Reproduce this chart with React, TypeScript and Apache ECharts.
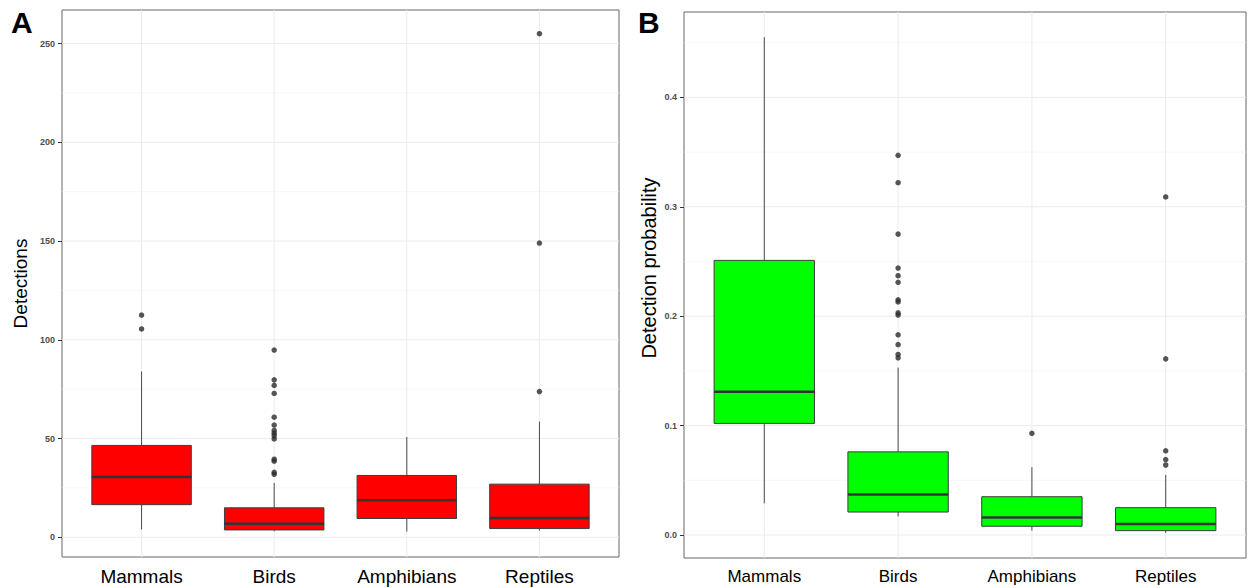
import React, { useEffect, useRef } from 'react';
import * as echarts from 'echarts';

const categories = ['Mammals', 'Birds', 'Amphibians', 'Reptiles'];
const categoryPositions = [0, 1, 2, 3];

// [lower whisker, Q1, median, Q3, upper whisker]
const detectionBoxes = [
  [4, 16.5, 30.5, 46.5, 84],
  [3, 3.7, 6.8, 14.9, 27.5],
  [2.9, 9.5, 18.8, 31.3, 50.8],
  [3.4, 4.4, 9.8, 26.9, 58.6],
];
const detectionOutliers = [
  [112.5, 105.5],
  [94.8, 79.7, 76.9, 72.8, 60.8, 56.8, 54.1, 52.7, 51.4, 49.8, 39.5, 38.5, 32.9, 31.9],
  [],
  [255, 149, 73.8],
];

const probabilityBoxes = [
  [0.029, 0.102, 0.131, 0.251, 0.455],
  [0.017, 0.021, 0.037, 0.076, 0.153],
  [0.004, 0.008, 0.016, 0.035, 0.062],
  [0.002, 0.004, 0.01, 0.025, 0.055],
];
const probabilityOutliers = [
  [],
  [0.347, 0.322, 0.275, 0.244, 0.237, 0.231, 0.215, 0.213, 0.203, 0.201, 0.183, 0.174, 0.165, 0.162],
  [0.093],
  [0.309, 0.161, 0.077, 0.069, 0.064],
];

const detectionTicks = [0, 50, 100, 150, 200, 250];
const detectionMinorTicks = [25, 75, 125, 175, 225];
const probabilityTicks = [0, 0.1, 0.2, 0.3, 0.4];
const probabilityMinorTicks = [0.05, 0.15, 0.25, 0.35, 0.45];

const FONT = '"Liberation Sans", Arial, Helvetica, sans-serif';

function gridSeries(idx: number, majors: number[], minors: number[]) {
  const data: number[][] = [];
  majors.forEach((v) => data.push([0, v, 0]));
  minors.forEach((v) => data.push([0, v, 1]));
  categoryPositions.forEach((p) => data.push([p, 0, 2]));
  return {
    type: 'custom',
    xAxisIndex: idx,
    yAxisIndex: idx,
    silent: true,
    z: 1,
    clip: true,
    encode: { x: 0, y: 1 },
    data,
    renderItem: (params: any, api: any) => {
      const cs = params.coordSys;
      const kind = api.value(2);
      if (kind === 2) {
        const p = api.coord([api.value(0), 0]);
        return {
          type: 'line',
          shape: { x1: p[0], y1: cs.y, x2: p[0], y2: cs.y + cs.height },
          style: { stroke: '#ebebeb', lineWidth: 1 },
        };
      }
      const p = api.coord([0, api.value(1)]);
      return {
        type: 'line',
        shape: { x1: cs.x, y1: p[1], x2: cs.x + cs.width, y2: p[1] },
        style: { stroke: kind === 0 ? '#ebebeb' : '#f3f3f3', lineWidth: kind === 0 ? 1 : 0.7 },
      };
    },
  };
}

function boxSeries(idx: number, boxes: number[][], fill: string) {
  return {
    type: 'custom',
    xAxisIndex: idx,
    yAxisIndex: idx,
    z: 2,
    encode: { x: 0, y: [1, 2, 3, 4, 5] },
    data: boxes.map((b, i) => [categoryPositions[i], ...b]),
    renderItem: (params: any, api: any) => {
      const i = api.value(0);
      const lo = api.coord([i, api.value(1)]);
      const q1 = api.coord([i, api.value(2)]);
      const med = api.coord([i, api.value(3)]);
      const q3 = api.coord([i, api.value(4)]);
      const hi = api.coord([i, api.value(5)]);
      const unit = api.size([1, 0])[0];
      const hw = unit * 0.375;
      const x = lo[0];
      const wStyle = { stroke: '#4a4a4a', lineWidth: 1 };
      return {
        type: 'group',
        children: [
          { type: 'line', shape: { x1: x, y1: hi[1], x2: x, y2: q3[1] }, style: wStyle },
          { type: 'line', shape: { x1: x, y1: q1[1], x2: x, y2: lo[1] }, style: wStyle },
          {
            type: 'rect',
            shape: { x: x - hw, y: q3[1], width: 2 * hw, height: q1[1] - q3[1] },
            style: { fill, stroke: '#3d3d3d', lineWidth: 1 },
          },
          {
            type: 'line',
            shape: { x1: x - hw, y1: med[1], x2: x + hw, y2: med[1] },
            style: { stroke: '#333333', lineWidth: 2.5 },
          },
        ],
      };
    },
  };
}

function outlierSeries(idx: number, outliers: number[][]) {
  const data: number[][] = [];
  outliers.forEach((list, i) => list.forEach((v) => data.push([categoryPositions[i], v])));
  return {
    type: 'scatter',
    xAxisIndex: idx,
    yAxisIndex: idx,
    z: 3,
    symbol: 'circle',
    symbolSize: 5.5,
    itemStyle: { color: '#2b2b2b' },
    data,
  };
}

function xAxis(idx: number, fontSize: number) {
  return {
    type: 'value',
    gridIndex: idx,
    min: -0.6,
    max: 3.6,
    axisLine: { show: false, onZero: false },
    axisTick: { show: false },
    splitLine: { show: false },
    axisLabel: {
      fontSize,
      color: '#000000',
      margin: 10,
      fontFamily: FONT,
      customValues: categoryPositions,
      formatter: (v: number) => categories[Math.round(v)] ?? '',
    },
  };
}

export default function App() {
  const ref = useRef<HTMLDivElement>(null);
  useEffect(() => {
    if (!ref.current) return;
    const chart = echarts.init(ref.current, undefined, { renderer: 'svg' });
    const option: any = {
      animation: false,
      backgroundColor: '#ffffff',
      textStyle: { fontFamily: FONT },
      grid: [
        { left: 62, top: 10, width: 557, height: 547, show: true, borderColor: '#666666', borderWidth: 1, backgroundColor: 'transparent' },
        { left: 684, top: 12, width: 562, height: 546, show: true, borderColor: '#666666', borderWidth: 1, backgroundColor: 'transparent' },
      ],
      xAxis: [xAxis(0, 19), xAxis(1, 17)],
      yAxis: [
        {
          type: 'value',
          gridIndex: 0,
          position: 'left',
          min: -10,
          max: 267,
          name: 'Detections',
          nameLocation: 'middle',
          nameGap: 32,
          nameTextStyle: { fontSize: 19, color: '#000000', fontFamily: FONT },
          axisLine: { show: false, onZero: false },
          axisTick: { show: true, length: 4, lineStyle: { color: '#333333' }, customValues: detectionTicks },
          axisLabel: { fontSize: 9, fontWeight: 'bold', color: '#4d4d4d', margin: 7, fontFamily: FONT, customValues: detectionTicks },
          splitLine: { show: false },
        },
        {
          type: 'value',
          gridIndex: 1,
          position: 'left',
          min: -0.021,
          max: 0.478,
          name: 'Detection probability',
          nameLocation: 'middle',
          nameGap: 25,
          nameTextStyle: { fontSize: 20, color: '#000000', fontFamily: FONT, padding: [0, 0, 0, 34] },
          axisLine: { show: false, onZero: false },
          axisTick: { show: true, length: 4, lineStyle: { color: '#333333' }, customValues: probabilityTicks },
          axisLabel: {
            fontSize: 9,
            fontWeight: 'bold',
            color: '#4d4d4d',
            margin: 7,
            fontFamily: FONT,
            customValues: probabilityTicks,
            formatter: (v: number) => v.toFixed(1),
          },
          splitLine: { show: false },
        },
      ],
      graphic: [
        { type: 'text', x: 11, y: 22.5, style: { text: 'A', fontSize: 30, fontWeight: 'bold', fill: '#000', font: `bold 30px ${FONT}`, verticalAlign: 'middle', align: 'left' } },
        { type: 'text', x: 638, y: 22.5, style: { text: 'B', fontSize: 30, fontWeight: 'bold', fill: '#000', font: `bold 30px ${FONT}`, verticalAlign: 'middle', align: 'left' } },
      ],
      series: [
        gridSeries(0, detectionTicks, detectionMinorTicks),
        boxSeries(0, detectionBoxes, '#ff0000'),
        outlierSeries(0, detectionOutliers),
        gridSeries(1, probabilityTicks, probabilityMinorTicks),
        boxSeries(1, probabilityBoxes, '#00ff00'),
        outlierSeries(1, probabilityOutliers),
      ],
    };
    chart.setOption(option);
    return () => chart.dispose();
  }, []);
  return (
    <div
      ref={ref}
      style={{ position: 'fixed', left: 0, top: 0, width: 1253, height: 588, background: '#fff' }}
    />
  );
}
